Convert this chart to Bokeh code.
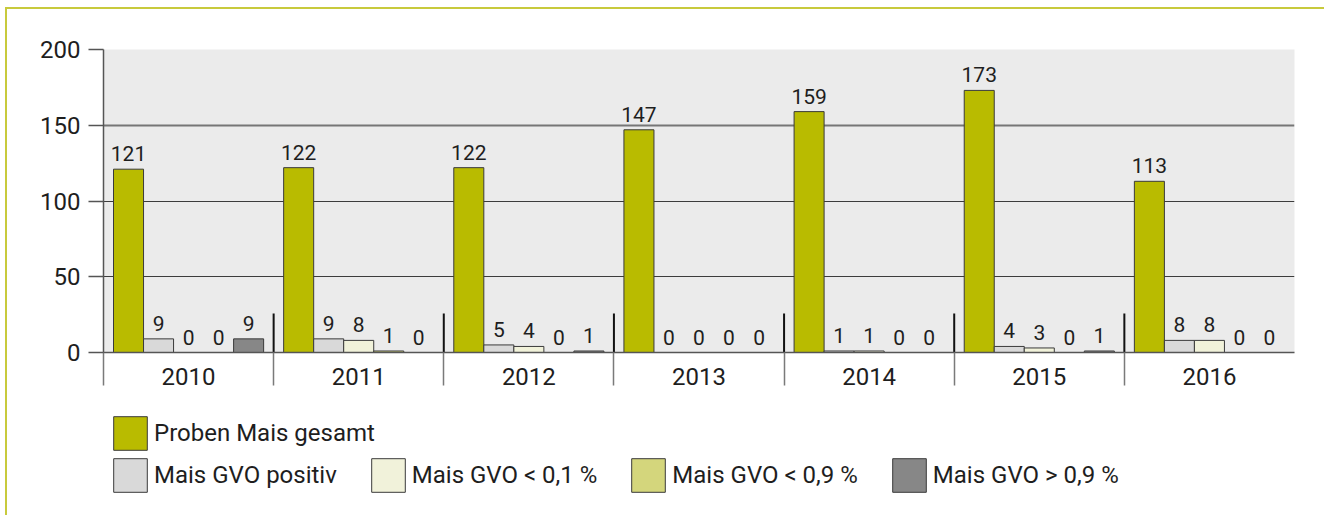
from bokeh.plotting import figure
from bokeh.layouts import column
from bokeh.models import (ColumnDataSource, Range1d, FixedTicker, Grid, Legend,
                          LegendItem, LabelSet)
from bokeh.core.properties import value
from bokeh.embed import file_html
from bokeh.resources import INLINE

# ---------------- data ----------------
years = ["2010", "2011", "2012", "2013", "2014", "2015", "2016"]
series_names = ["Proben Mais gesamt", "Mais GVO positiv", "Mais GVO < 0,1 %",
                "Mais GVO < 0,9 %", "Mais GVO > 0,9 %"]
total = [121, 122, 122, 147, 159, 173, 113]
positiv = [9, 9, 5, 0, 1, 4, 8]
lt01 = [0, 8, 4, 0, 1, 3, 8]
lt09 = [0, 1, 0, 0, 0, 0, 0]
gt09 = [9, 0, 1, 0, 0, 1, 0]
y_ticks = [0, 50, 100, 150, 200]

# ---------------- style ----------------
colors = ["#b9bb00", "#d9d9d9", "#f1f2da", "#d4d67c", "#878787"]
BAR_W = 30 / 170
FONT = "Roboto"
TXT = "#1e1e1e"
SEP_H = 25.7
W = 1319

series = [total, positiv, lt01, lt09, gt09]
n = len(years)
idx = list(range(n))

p = figure(width=W, height=391,
           x_range=Range1d(-0.5, n - 0.5), y_range=Range1d(y_ticks[0], y_ticks[-1]),
           output_backend="svg", toolbar_location=None,
           min_border_left=96, min_border_right=32, min_border_top=40,
           min_border_bottom=48)
p.background_fill_color = "#ebebeb"
p.border_fill_color = "white"
p.outline_line_color = None

# grids
p.xgrid.visible = False
p.ygrid.ticker = FixedTicker(ticks=[50, 100])
p.ygrid.grid_line_color = "#3c3c3c"
p.ygrid.grid_line_width = 1
g2 = Grid(dimension=1, ticker=FixedTicker(ticks=[150]),
          grid_line_color="#767676", grid_line_width=2)
g3 = Grid(dimension=1, ticker=FixedTicker(ticks=[200]),
          grid_line_color="#222222", grid_line_width=2)
p.add_layout(g2)
p.add_layout(g3)

# bars
sources = []
label_x, label_y, label_t = [], [], []
for k, vals in enumerate(series):
    xs = [i + (k - 2) * BAR_W for i in idx]
    src = ColumnDataSource(dict(x=xs, top=vals))
    sources.append(src)
    p.vbar(x="x", top="top", bottom=0, width=BAR_W, source=src,
           fill_color=colors[k], line_color="#3a3a3a", line_width=1)
    label_x += xs
    label_y += vals
    label_t += [str(v) for v in vals]

# separators above the axis line
bounds = [i + 0.5 for i in idx[:-1]]
p.segment(x0=bounds, y0=[0] * len(bounds), x1=bounds, y1=[SEP_H] * len(bounds),
          line_color="#111111", line_width=2)

# value labels
lab_src = ColumnDataSource(dict(x=label_x, y=label_y, text=label_t))
p.add_layout(LabelSet(x="x", y="y", text="text", source=lab_src,
                      text_align="center", text_baseline="alphabetic",
                      y_offset=8, text_font=value(FONT),
                      text_font_size="21px", text_color=TXT))

# y axis
ya = p.yaxis[0]
ya.ticker = FixedTicker(ticks=y_ticks)
ya.major_tick_out = 15
ya.major_tick_in = 0
ya.minor_tick_out = 0
ya.minor_tick_in = 0
ya.axis_line_color = "#555555"
ya.axis_line_width = 1.5
ya.major_tick_line_color = "#555555"
ya.major_tick_line_width = 1.5
ya.major_label_text_font = FONT
ya.major_label_text_font_size = "24px"
ya.major_label_text_color = TXT
ya.major_label_standoff = 8

# x axis
xa = p.xaxis[0]
xa.ticker = FixedTicker(ticks=idx, minor_ticks=[i - 0.5 for i in idx])
xa.major_label_overrides = {i: y for i, y in zip(idx, years)}
xa.major_tick_out = 0
xa.major_tick_in = 0
xa.minor_tick_out = 33
xa.minor_tick_in = 0
xa.minor_tick_line_color = "#7a7a7a"
xa.minor_tick_line_width = 1.5
xa.axis_line_color = "#555555"
xa.axis_line_width = 1.5
xa.major_label_text_font = FONT
xa.major_label_text_font_size = "24px"
xa.major_label_text_color = TXT
xa.major_label_standoff = -18

# ---------------- legend panel ----------------
# same sources as the bars; the ranges lie far away, so no bar shows here
lf = figure(width=W, height=117, x_range=Range1d(1000, 1001), y_range=Range1d(1000, 1001),
            x_axis_type=None, y_axis_type=None,
            output_backend="svg", toolbar_location=None,
            min_border=0, min_border_left=0, min_border_right=0,
            min_border_top=0, min_border_bottom=0)
lf.outline_line_color = None
lf.background_fill_color = "white"
lf.border_fill_color = "white"
lf.grid.visible = False
proxies = []
for k in range(len(series)):
    proxies.append(lf.vbar(x="x", top="top", bottom=0, width=BAR_W, source=sources[k],
                           fill_color=colors[k], line_color="#3a3a3a", line_width=1))


def make_legend(items, loc, orient):
    return Legend(items=items, location=loc, orientation=orient,
                  glyph_width=42, glyph_height=42, label_standoff=3,
                  spacing=30, padding=0, margin=0,
                  border_line_color=None, background_fill_alpha=0,
                  label_text_font=FONT, label_text_font_size="24px",
                  label_text_color=TXT)


leg1 = make_legend([LegendItem(label=series_names[0], renderers=[proxies[0]])],
                   (6, 63), "vertical")
leg2 = make_legend([LegendItem(label=series_names[k], renderers=[proxies[k]])
                    for k in range(1, len(series))], (6, 21), "horizontal")
lf.add_layout(leg1)
lf.add_layout(leg2)

layout = column(p, lf, spacing=0,
                styles={"margin-left": "7px", "margin-top": "9px",
                        "box-shadow": "-2px -2px 0 0 #c8ca3c"})

open("out.html", "w").write(file_html(layout, INLINE))
